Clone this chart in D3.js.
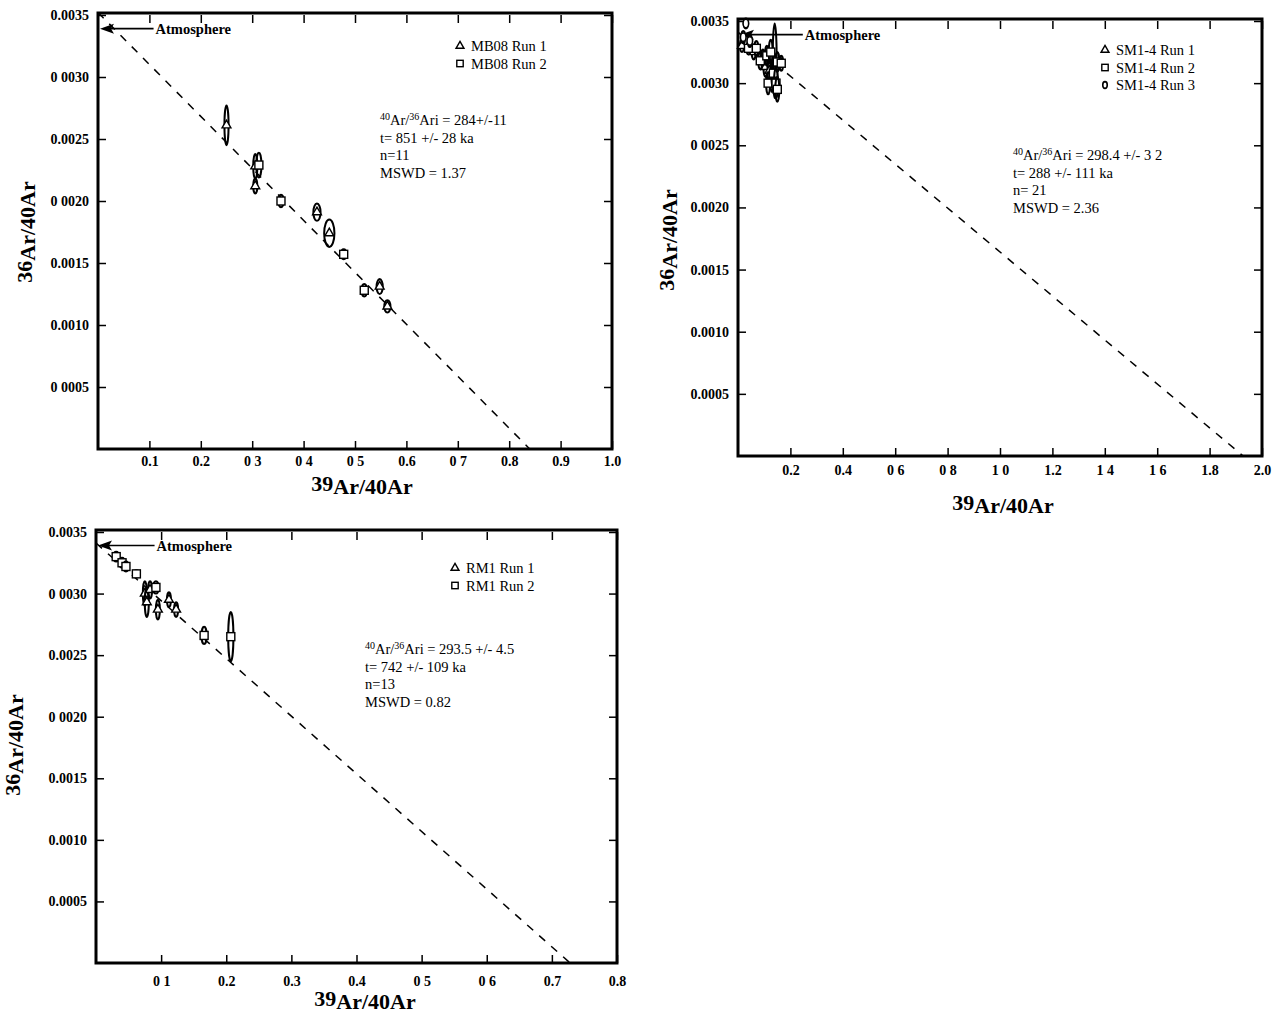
<!DOCTYPE html>
<meta charset="utf-8">
<style>
body { margin: 0; background: #fff; }
svg text { font-family: 'Liberation Serif', 'Times New Roman', serif; fill: #000; }
.tick line { stroke: #000; stroke-width: 1.5px; }
.tick text { font-size: 14px; font-weight: bold; font-family: 'Liberation Serif', 'Times New Roman', serif; }
</style>
<body>
<svg width="1281" height="1015"></svg>
</body>
<script src="https://cdn.jsdelivr.net/npm/d3@7"></script>
<script>

// ---- data: [39Ar/40Ar, 36Ar/40Ar, err x, err y] ----
var mb08Run1 = [
  [0.250, 0.00261, 0.004, 0.00016],
  [0.306, 0.00228, 0.004, 0.00010],
  [0.306, 0.00212, 0.004, 0.00006],
  [0.426, 0.00191, 0.007, 0.00007],
  [0.450, 0.00174, 0.010, 0.00011],
  [0.548, 0.00131, 0.006, 0.00006],
  [0.563, 0.00115, 0.006, 0.00005]
];
var mb08Run2 = [
  [0.313, 0.00229, 0.005, 0.00010],
  [0.356, 0.00200, 0.005, 0.00005],
  [0.478, 0.00157, 0.005, 0.00004],
  [0.518, 0.00128, 0.005, 0.00005]
];

var sm14Run1 = [
  [0.015, 0.00330, 0.006, 0.00005],
  [0.060, 0.00325, 0.006, 0.00006],
  [0.095, 0.00320, 0.006, 0.00007],
  [0.105, 0.00313, 0.006, 0.00008],
  [0.120, 0.00310, 0.006, 0.00010],
  [0.130, 0.00305, 0.006, 0.00012],
  [0.140, 0.00318, 0.007, 0.00030]
];
var sm14Run2 = [
  [0.040, 0.00328, 0.006, 0.00005],
  [0.070, 0.00328, 0.006, 0.00006],
  [0.085, 0.00318, 0.006, 0.00007],
  [0.110, 0.00322, 0.006, 0.00008],
  [0.115, 0.00300, 0.006, 0.00009],
  [0.125, 0.00325, 0.006, 0.00010],
  [0.135, 0.00308, 0.006, 0.00012],
  [0.145, 0.00300, 0.006, 0.00012],
  [0.150, 0.00295, 0.006, 0.00010],
  [0.150, 0.00317, 0.006, 0.00008],
  [0.165, 0.00316, 0.006, 0.00006]
];
var sm14Run3 = [
  [0.030, 0.00348, 0.006, 0.00004],
  [0.020, 0.00337, 0.006, 0.00005],
  [0.045, 0.00334, 0.006, 0.00005]
];

var rm1Run1 = [
  [0.075, 0.00300, 0.003, 0.00010],
  [0.078, 0.00293, 0.003, 0.00012],
  [0.083, 0.00303, 0.003, 0.00007],
  [0.095, 0.00287, 0.003, 0.00008],
  [0.112, 0.00295, 0.003, 0.00006],
  [0.123, 0.00287, 0.003, 0.00006]
];
var rm1Run2 = [
  [0.031, 0.00330, 0.004, 0.00004],
  [0.040, 0.00325, 0.004, 0.00004],
  [0.046, 0.00322, 0.004, 0.00004],
  [0.062, 0.00316, 0.004, 0.00003],
  [0.092, 0.00305, 0.004, 0.00005],
  [0.166, 0.00266, 0.004, 0.00007],
  [0.207, 0.00265, 0.004, 0.00020]
];

// isochron lines: [y intercept, x intercept]
var mb08Fit = [0.00352, 0.840];
var sm14Fit = [0.00341, 1.928];
var rm1Fit  = [0.00341, 0.728];

var atmosphere = 0.00339;

var mb08XLabels = ["0.1", "0.2", "0 3", "0 4", "0 5", "0.6", "0 7", "0.8", "0.9", "1.0"];
var sm14XLabels = ["0.2", "0.4", "0 6", "0 8", "1 0", "1.2", "1 4", "1 6", "1.8", "2.0"];
var rm1XLabels  = ["0 1", "0.2", "0.3", "0.4", "0 5", "0 6", "0.7", "0.8"];
var mb08YLabels = ["0 0005", "0.0010", "0.0015", "0 0020", "0.0025", "0 0030", "0.0035"];
var sm14YLabels = ["0.0005", "0.0010", "0.0015", "0.0020", "0 0025", "0.0030", "0.0035"];
var rm1YLabels  = ["0.0005", "0.0010", "0.0015", "0 0020", "0.0025", "0 0030", "0.0035"];
var yTicks = [0.0005, 0.0010, 0.0015, 0.0020, 0.0025, 0.0030, 0.0035];

var svg = d3.select("svg");

drawPanel({
  box: [98, 612, 15, 449], xMax: 1.0, xTicks: d3.range(1, 11).map(function(i) { return i / 10; }),
  xPad: 7, xLabels: mb08XLabels, yLabels: mb08YLabels, fit: mb08Fit, atmText: 0.112,
  series: [{name: "MB08 Run 1", data: mb08Run1, mark: "tri"}, {name: "MB08 Run 2", data: mb08Run2, mark: "sq"}],
  legend: [460, 46], stats: [380, 125], stat: ["284+/-11", "t= 851 +/- 28 ka", "n=11", "MSWD = 1.37"],
  yTitle: [32, 232], xTitle: [362, 491]
});

drawPanel({
  box: [738, 1262, 21, 456], xMax: 2.0, xTicks: d3.range(1, 11).map(function(i) { return i / 5; }),
  xPad: 9, xLabels: sm14XLabels, yLabels: sm14YLabels, fit: sm14Fit, atmText: 0.255,
  series: [{name: "SM1-4 Run 1", data: sm14Run1, mark: "tri"}, {name: "SM1-4 Run 2", data: sm14Run2, mark: "sq"},
           {name: "SM1-4 Run 3", data: sm14Run3, mark: "circ"}],
  legend: [1105, 50], stats: [1013, 160], stat: ["298.4 +/- 3 2", "t= 288 +/- 111 ka", "n= 21", "MSWD = 2.36"],
  yTitle: [674, 240], xTitle: [1003, 510]
});

drawPanel({
  box: [96, 617, 532, 963], xMax: 0.8, xTicks: d3.range(1, 9).map(function(i) { return i / 10; }),
  xPad: 13, xLabels: rm1XLabels, yLabels: rm1YLabels, fit: rm1Fit, atmText: 0.093,
  series: [{name: "RM1 Run 1", data: rm1Run1, mark: "tri"}, {name: "RM1 Run 2", data: rm1Run2, mark: "sq"}],
  legend: [455, 568], stats: [365, 654], stat: ["293.5 +/- 4.5", "t= 742 +/- 109 ka", "n=13", "MSWD = 0.82"],
  yTitle: [20, 745], xTitle: [365, 1006]
});

function drawPanel(c) {
  var x = d3.scaleLinear().domain([0, c.xMax]).range([c.box[0], c.box[1]]);
  var y = d3.scaleLinear().domain([0, 0.0035]).range([c.box[3], c.box[2]]);
  var g = svg.append("g");
  var clipId = "clip" + c.box[0] + "_" + c.box[2];

  g.append("clipPath").attr("id", clipId).append("rect")
      .attr("x", c.box[0]).attr("y", c.box[2] - 4)
      .attr("width", c.box[1] - c.box[0]).attr("height", c.box[3] - c.box[2] + 4);

  // axes, ticks pointing inwards
  g.append("g").attr("transform", "translate(0," + c.box[3] + ")")
      .call(d3.axisBottom(x).tickValues(c.xTicks).tickSize(-8).tickPadding(c.xPad)
        .tickFormat(function(d, i) { return c.xLabels[i]; }))
      .call(function(a) { a.select(".domain").remove(); });
  g.append("g").attr("transform", "translate(0," + c.box[2] + ")")
      .call(d3.axisTop(x).tickValues(c.xTicks).tickSize(-8).tickFormat(""))
      .call(function(a) { a.select(".domain").remove(); });
  g.append("g").attr("transform", "translate(" + c.box[0] + ",0)")
      .call(d3.axisLeft(y).tickValues(yTicks).tickSize(-8).tickPadding(9)
        .tickFormat(function(d, i) { return c.yLabels[i]; }))
      .call(function(a) { a.select(".domain").remove(); });
  g.append("g").attr("transform", "translate(" + c.box[1] + ",0)")
      .call(d3.axisRight(y).tickValues(yTicks).tickSize(-8).tickFormat(""))
      .call(function(a) { a.select(".domain").remove(); });

  g.append("rect")
      .attr("x", c.box[0]).attr("y", c.box[2] - 2)
      .attr("width", c.box[1] - c.box[0]).attr("height", c.box[3] - c.box[2] + 2)
      .attr("fill", "none").attr("stroke", "#000").attr("stroke-width", 3);

  // isochron
  g.append("line")
      .attr("clip-path", "url(#" + clipId + ")")
      .attr("x1", x(0)).attr("y1", y(c.fit[0]))
      .attr("x2", x(c.fit[1])).attr("y2", y(0))
      .attr("stroke", "#000").attr("stroke-width", 1.5)
      .attr("stroke-dasharray", "8,8");

  // atmosphere arrow
  var ay = y(atmosphere);
  g.append("line")
      .attr("x1", x(0) + 10).attr("x2", x(c.atmText) - 2)
      .attr("y1", ay).attr("y2", ay)
      .attr("stroke", "#000").attr("stroke-width", 1.6);
  g.append("path")
      .attr("d", "M" + (x(0) + 2) + "," + ay + "L" + (x(0) + 16) + "," + (ay - 5) +
                 "L" + (x(0) + 13) + "," + ay + "L" + (x(0) + 16) + "," + (ay + 5) + "Z")
      .attr("fill", "#000");
  g.append("text")
      .attr("x", x(c.atmText)).attr("y", ay + 5)
      .attr("font-size", 14.5).attr("font-weight", "bold")
      .text("Atmosphere");

  // points: error ellipses plus symbol
  c.series.forEach(function(s) {
    var pts = g.append("g").selectAll("g").data(s.data).enter().append("g")
        .attr("transform", function(d) { return "translate(" + x(d[0]) + "," + y(d[1]) + ")"; });
    pts.append("ellipse")
        .attr("rx", function(d) { return Math.max(2, x(d[2]) - x(0)); })
        .attr("ry", function(d) { return y(0) - y(d[3]); })
        .attr("fill", "none").attr("stroke", "#000").attr("stroke-width", 2);
    drawMark(pts, s.mark, 1);
  });

  // legend
  c.series.forEach(function(s, i) {
    var lg = g.append("g").attr("transform", "translate(" + c.legend[0] + "," + (c.legend[1] + i * 17.5) + ")");
    drawMark(lg, s.mark, 0.8);
    lg.append("text").attr("x", 11).attr("y", 5).attr("font-size", 14.5).text(s.name);
  });

  // stats block
  var st = g.append("g").attr("transform", "translate(" + c.stats[0] + "," + c.stats[1] + ")");
  var t0 = st.append("text").attr("font-size", 14.5);
  t0.append("tspan").attr("font-size", 10).attr("dy", -5).text("40");
  t0.append("tspan").attr("dy", 5).text("Ar/");
  t0.append("tspan").attr("font-size", 10).attr("dy", -5).text("36");
  t0.append("tspan").attr("dy", 5).text("Ari = " + c.stat[0]);
  c.stat.slice(1).forEach(function(line, i) {
    st.append("text").attr("y", 17.5 * (i + 1)).attr("font-size", 14.5).text(line);
  });

  // axis titles
  var xt = g.append("text").attr("x", c.xTitle[0]).attr("y", c.xTitle[1])
      .attr("text-anchor", "middle").attr("font-size", 22).attr("font-weight", "bold");
  xt.append("tspan").text("39");
  xt.append("tspan").attr("dy", 3).text("Ar/40");
  xt.append("tspan").text("Ar");

  var yt = g.append("text")
      .attr("transform", "translate(" + c.yTitle[0] + "," + c.yTitle[1] + ") rotate(-90)")
      .attr("text-anchor", "middle").attr("font-size", 22).attr("font-weight", "bold");
  yt.append("tspan").text("36");
  yt.append("tspan").attr("dy", 3).text("Ar/40Ar");
}

function drawMark(sel, mark, k) {
  if (mark === "tri") {
    sel.append("path").attr("d", d3.symbol(d3.symbolTriangle, 34 * k)())
        .attr("fill", "#fff").attr("stroke", "#000").attr("stroke-width", 1.4);
  } else if (mark === "sq") {
    sel.append("rect").attr("x", -4 * k).attr("y", -4 * k)
        .attr("width", 8 * k).attr("height", 8 * k)
        .attr("fill", "#fff").attr("stroke", "#000").attr("stroke-width", 1.4);
  } else {
    sel.append("ellipse").attr("rx", 2.8 * k).attr("ry", 4.2 * k)
        .attr("fill", "#fff").attr("stroke", "#000").attr("stroke-width", 1.6);
  }
}

</script>
